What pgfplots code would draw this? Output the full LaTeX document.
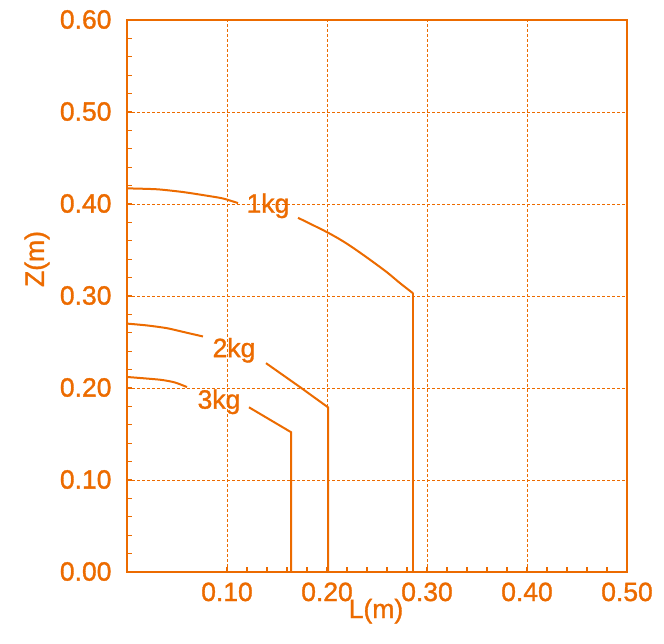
\documentclass[border=0pt]{standalone}
\usepackage{pgfplots}
\pgfplotsset{compat=1.18}
\usepackage{fontspec}
\setmainfont{Liberation Sans}
\newfontfamily\lab{Liberation Sans}[FakeBold=1.2]
\definecolor{org}{HTML}{EC6B00}
\begin{document}
\begin{tikzpicture}
\begin{axis}[
  at={(0pt,0pt)}, anchor=south west,
  scale only axis, width=500pt, height=552pt,
  xmin=0, xmax=0.5, ymin=0, ymax=0.6,
  clip=false,
  axis line style={org, line width=2.5pt},
  xtick={0.1,0.2,0.3,0.4,0.5},
  ytick={0,0.1,0.2,0.3,0.4,0.5,0.6},
  minor x tick num=4, minor y tick num=4,
  extra x ticks={0}, extra x tick labels={},
  extra x tick style={grid=none},
  xtick pos=bottom, ytick pos=left,
  tick align=inside,
  major tick length=5pt, minor tick length=5pt,
  tick style={org, line width=1.2pt},
  grid=major,
  major grid style={org, densely dashed, line width=0.6pt},
  ticklabel style={font=\lab\fontsize{26.5}{26.5}\selectfont, text=org},
  yticklabel style={xshift=-12pt, yshift=0.5pt},
  xticklabel style={yshift=-7pt},
  /pgf/number format/.cd, fixed, fixed zerofill, precision=2, assume math mode=true,
]
% 1kg
\addplot[org, line width=2pt, smooth, tension=0.4] coordinates {(0,0.417) (0.030,0.416) (0.056,0.413) (0.080,0.409) (0.096,0.406) (0.111,0.401)};
\addplot[org, line width=2pt, smooth, tension=0.5] coordinates {(0.171,0.385) (0.2007,0.369) (0.2197,0.357) (0.2397,0.342) (0.2597,0.326) (0.273,0.314) (0.286,0.303)};
\addplot[org, line width=2pt] coordinates {(0.286,0.303) (0.286,0)};
% 2kg
\addplot[org, line width=2pt, smooth, tension=0.4] coordinates {(0,0.270) (0.020,0.268) (0.040,0.265) (0.060,0.260) (0.076,0.256)};
\addplot[org, line width=2pt] coordinates {(0.139,0.227) (0.156,0.214) (0.173,0.201) (0.201,0.179) (0.201,0)};
% 3kg
\addplot[org, line width=2pt, smooth, tension=0.4] coordinates {(0,0.212) (0.033,0.209) (0.048,0.206) (0.060,0.201)};
\addplot[org, line width=2pt] coordinates {(0.122,0.179) (0.164,0.152) (0.164,0)};
\node[font=\lab\fontsize{26.5}{26.5}\selectfont, text=org] at (axis cs:0.141,0.398) {1kg};
\node[font=\lab\fontsize{26.5}{26.5}\selectfont, text=org] at (axis cs:0.107,0.241) {2kg};
\node[font=\lab\fontsize{26.5}{26.5}\selectfont, text=org] at (axis cs:0.092,0.185) {3kg};
\node[font=\lab\fontsize{26.5}{26.5}\selectfont, text=org] at (rel axis cs:0.498,-0.071) {L(m)};
\node[font=\lab\fontsize{26.5}{26.5}\selectfont, text=org, rotate=90] at (rel axis cs:-0.18,0.567) {Z(m)};
\end{axis}
\pgfresetboundingbox
\path[use as bounding box] ([xshift=-127pt,yshift=-71pt]current axis.south west) rectangle ([xshift=537pt,yshift=572pt]current axis.south west);
\end{tikzpicture}
\end{document}
